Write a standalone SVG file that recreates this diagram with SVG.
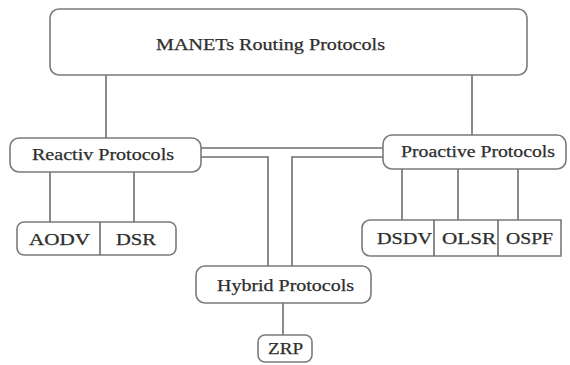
<svg xmlns="http://www.w3.org/2000/svg" width="570" height="365" viewBox="0 0 570 365">
<style>
.box{fill:#fff;stroke:#7a7a7a;stroke-width:1.6}
.ln{fill:none;stroke:#6e6e6e;stroke-width:1.6}
.t{font-family:"Liberation Serif","Times New Roman",serif;fill:#2e2e2e;font-size:16px;stroke:#2e2e2e;stroke-width:0.25}
</style>
<rect width="570" height="365" fill="#fff"/>
<g id="connectors">
<line class="ln" x1="106" y1="75" x2="106" y2="138"/>
<line class="ln" x1="472" y1="75" x2="472" y2="135"/>
<line class="ln" x1="201" y1="148" x2="383" y2="148"/>
<polyline class="ln" points="201,157 268,157 268,266"/>
<polyline class="ln" points="383,157 292,157 292,266"/>
<line class="ln" x1="50" y1="172" x2="50" y2="222"/>
<line class="ln" x1="134" y1="172" x2="134" y2="222"/>
<line class="ln" x1="402" y1="169" x2="402" y2="220"/>
<line class="ln" x1="458" y1="169" x2="458" y2="220"/>
<line class="ln" x1="518" y1="169" x2="518" y2="220"/>
<line class="ln" x1="283" y1="303" x2="283" y2="335"/>
</g>
<g id="manets">
<rect class="box" x="50" y="9" width="477" height="66" rx="9"/>
<text class="t" x="156" y="50" textLength="229" lengthAdjust="spacingAndGlyphs">MANETs Routing Protocols</text>
</g>
<g id="reactive">
<rect class="box" x="10" y="138" width="191" height="34" rx="9"/>
<text class="t" x="32" y="160" textLength="142" lengthAdjust="spacingAndGlyphs">Reactiv Protocols</text>
</g>
<g id="proactive">
<rect class="box" x="383" y="135" width="183" height="34" rx="9"/>
<text class="t" x="401" y="157" textLength="154" lengthAdjust="spacingAndGlyphs">Proactive Protocols</text>
</g>
<g id="reactive-list">
<rect class="box" x="17" y="222" width="159" height="33" rx="7"/>
<line class="ln" x1="100" y1="222" x2="100" y2="255"/>
<text class="t" x="29" y="245" textLength="61" lengthAdjust="spacingAndGlyphs">AODV</text>
<text class="t" x="116" y="245" textLength="40" lengthAdjust="spacingAndGlyphs">DSR</text>
</g>
<g id="proactive-list">
<path class="box" d="M370,220 H561 V256 H370 A8,8 0 0 1 362,248 V228 A8,8 0 0 1 370,220 Z"/>
<line class="ln" x1="434" y1="220" x2="434" y2="256"/>
<line class="ln" x1="498" y1="220" x2="498" y2="256"/>
<text class="t" x="377" y="244" textLength="55" lengthAdjust="spacingAndGlyphs">DSDV</text>
<text class="t" x="442" y="244" textLength="54" lengthAdjust="spacingAndGlyphs">OLSR</text>
<text class="t" x="506" y="244" textLength="47" lengthAdjust="spacingAndGlyphs">OSPF</text>
</g>
<g id="hybrid">
<rect class="box" x="196" y="266" width="175" height="37" rx="9"/>
<text class="t" x="217" y="291" textLength="137" lengthAdjust="spacingAndGlyphs">Hybrid Protocols</text>
</g>
<g id="zrp">
<rect class="box" x="258" y="335" width="54" height="27" rx="7"/>
<text class="t" x="268" y="354" textLength="35" lengthAdjust="spacingAndGlyphs">ZRP</text>
</g>
</svg>
